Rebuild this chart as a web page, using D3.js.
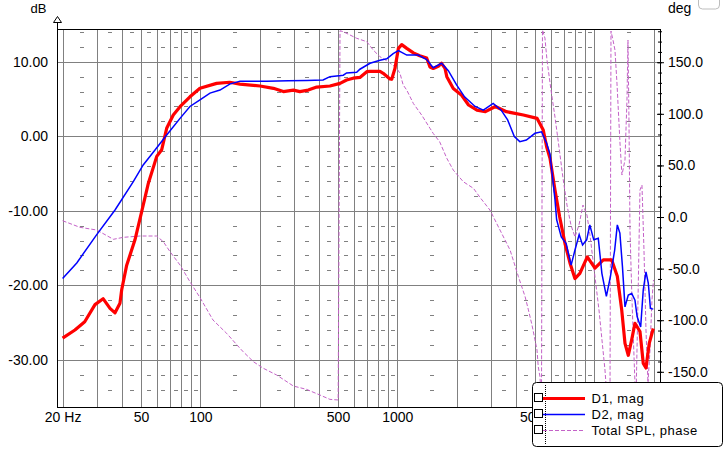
<!DOCTYPE html>
<html>
<head>
<meta charset="utf-8">
<script src="https://cdn.jsdelivr.net/npm/d3@7"></script>
<style>
  body { margin: 0; background: #fff; }
  text { font-family: Arial, "Liberation Sans", sans-serif; }
</style>
</head>
<body>
<div class="chart"></div>
<script>
// D1 magnitude (red)
var d1Freq = [20, 23.1, 25.9, 29.2, 32.1, 34.8, 36.9, 39.1, 39.9, 42.3, 46.6, 50.4, 54.5, 60.1, 63.7, 67.5, 72.9, 78.9, 88.6, 99.6,
  121, 141, 159, 201, 235, 264, 297, 320, 353, 390, 455, 512, 553, 597, 646, 700, 727, 817, 848, 918, 937, 973, 1013, 1053,
  1117, 1207, 1300, 1410, 1465, 1522, 1615, 1678, 1747, 1784, 1924, 2122, 2300, 2538, 2801, 3147, 3581, 4367, 5128, 5508,
  5730, 5960, 6317, 6670, 7101, 7526, 7975, 8452, 9215, 10080, 11110, 12260, 13090, 13780, 14320, 14880, 15490, 16090,
  17060, 17730, 18300, 19010, 19930];
var d1Mag = [-27.1, -26.0, -24.9, -22.6, -21.8, -23.1, -23.7, -22.4, -20.6, -17.3, -13.9, -10.1, -6.3, -2.7, -1.8, 1.07, 2.86, 3.97, 5.3, 6.44,
  7.1, 7.25, 7.0, 6.75, 6.44, 6.0, 6.2, 6.0, 6.2, 6.6, 6.75, 7.1, 7.55, 7.8, 7.9, 8.67, 8.7, 8.7, 8.45, 7.7, 7.65, 9.1, 11.8, 12.3,
  11.8, 11.2, 10.8, 10.5, 9.3, 9.1, 9.4, 9.8, 9.1, 8.0, 6.4, 5.5, 4.2, 3.5, 3.3, 4.0, 3.3, 2.86, 2.4, 0.85,
  -1.4, -2.95, -7.2, -10.8, -14.4, -17.0, -19.1, -18.4, -16.2, -17.7, -16.6, -16.6, -18.8, -23.3, -27.8, -29.4, -27.3, -25.1,
  -26.2, -30.5, -31.1, -27.8, -25.8];

// D2 magnitude (blue)
var d2Freq = [20, 23.6, 29.8, 36.9, 45.7, 51.3, 58.9, 67.5, 78.9, 88.6, 99.6, 112, 125.9, 141, 159, 217, 280, 346, 420, 455,
  532, 553, 622, 646, 727, 817, 884, 953, 1013, 1117, 1278, 1410, 1522, 1678, 1816, 2000, 2195, 2483, 2734, 3067, 3368,
  3632, 3928, 4188, 4520, 4999, 5397, 5731, 5960, 6317, 6440, 6800, 7200, 7630, 7975, 8380, 8720, 9150, 9490, 9940,
  10480, 10930, 11520, 12080, 12690, 13090, 13490, 13900, 14320, 14880, 15490, 16090, 16500, 17200, 17730, 18300,
  18800, 19270, 19930];
var d2Mag = [-19.1, -17.0, -13.2, -9.9, -6.1, -3.85, -1.84, 0.17, 2.4, 4.0, 4.9, 5.8, 6.2, 7.0, 7.4, 7.4, 7.45, 7.5, 7.55, 8.0,
  8.2, 8.5, 8.6, 9.0, 9.8, 10.2, 10.4, 11.1, 11.5, 10.9, 10.9, 10.3, 9.2, 9.8, 8.8, 6.9, 5.3, 4.0, 3.5, 4.4, 3.5,
  2.2, -0.05, -0.72, -0.5, 0.4, 0.6, -0.94, -2.4, -8.5, -11.2, -13.5, -14.4, -17.3, -15.3, -13.2, -14.6, -13.9, -11.9, -13.9,
  -13.7, -18.4, -21.5, -18.8, -15.3, -11.9, -13.0, -17.5, -22.9, -21.3, -21.1, -22.0, -24.2, -25.6, -20.6, -18.2,
  -19.7, -23.1, -23.2];

// Total SPL phase (violet, dashed, right axis)
var phFreq = [20, 24.5, 29.8, 36.2, 40.6, 49.4, 60, 64.9, 70.2, 78.9, 88.6, 99.6, 116, 136, 159, 165, 186, 209, 244, 297,
  346, 405, 455, 501, 512, 532, 622, 700, 755, 817, 900, 991, 1033, 1071, 1117, 1207, 1330, 1465, 1522, 1640, 1784,
  1924, 2163, 2436, 2630, 2953, 3322, 3737, 4120, 4455, 4630, 4829, 4999, 5120, 5195, 5303, 5395, 5458, 5618, 5754,
  6029, 6317, 6620, 6937, 7268, 7614, 7980, 8362, 8762, 9182, 9510, 9849, 10200, 10566, 10942, 11334, 11602, 12015,
  12157, 12444, 12735, 13037, 13506, 13818, 14316, 14656, 14829, 15000, 15180, 15540, 16090, 16282, 16673, 17060,
  17463, 17877, 18302, 18733, 19176, 19630, 19976];
var phDeg = [-3.6, -10, -12.6, -21.6, -19.7, -18.4, -18.4, -23.9, -33.6, -46.5, -62.7, -78, -99.8, -112.7, -127.2, -130.5, -140.2, -146.6, -153.1, -163.8,
  -167, -172.5, -176.7, -177.3, 180.5, 179.6, 173.2, 169.9, 161.8, 155.3, 150.5, 144.5, 139, 128, 123, 110, 98.8, 86, 81, 73, 56.9,
  45.5, 34.2, 27.8, 19, 6.8, -12.6, -32, -57.8, -77.2, -90, -104.7, -119, -128.9, -145, -155, -182.2, 181.2, 173.4, 152.1,
  123.1, 96.9, 67.8, 37.8, 11.6, -7.8, -19.4, -7.8, 11.6, 1.9, -17.4, -41.7, -65.9, -90.1, -119.2, -148.3, -175.4, -182.2,
  180.2, 171.5, 161.8, 129.8, 71.7, 40.7, 55.2, 113.4, 171.5, 94, -12.6, -80.4, -160.9, -177.3, -80.4, 26.2,
  31, -32, -109.5, -160.9, -128.9, -80.4, -61];

// ticks and labels
var freqGrid = [20, 30, 40, 50, 60, 70, 80, 90, 100, 200, 300, 400, 500, 600, 700, 800, 900,
  1000, 2000, 3000, 4000, 5000, 6000, 7000, 8000, 9000, 10000, 20000];
var freqMid = [25, 35, 45, 55, 65, 75, 85, 95, 150, 250, 350, 450, 550, 650, 750, 850, 950,
  1500, 2500, 3500, 4500, 5500, 6500, 7500, 8500, 9500, 15000];
var freqLabels = [20, 50, 100, 500, 1000, 5000];
var dbTicks = [10, 0, -10, -20, -30];
var dbMinor = [14, 12, 8, 6, 4, 2, -2, -4, -6, -8, -12, -14, -16, -18, -22, -24, -26, -28, -32, -34];
var degTicks = [150, 100, 50, 0, -50, -100, -150];
var degMinor = d3.range(-180, 181, 10);
var legendNames = ["D1, mag", "D2, mag", "Total SPL, phase"];

var svgWidth = 727, svgHeight = 453;
var plot = { left: 57, right: 660, top: 29, bottom: 407 };

var svg = d3.select(".chart").append("svg")
  .attr("width", svgWidth)
  .attr("height", svgHeight)
  .style("display", "block");

var xScale = d3.scaleLog().domain([18.73, 21560]).range([plot.left, plot.right]);
var yDb = d3.scaleLinear().domain([-36.34, 14.40]).range([plot.bottom, plot.top]);
var yDeg = d3.scaleLinear().domain([-184.1, 182.2]).range([plot.bottom, plot.top]);

var grid = svg.append("g").attr("shape-rendering", "crispEdges");

// vertical grid
grid.selectAll(".vg").data(freqGrid).enter().append("line")
  .attr("x1", d => Math.round(xScale(d)) + 0.5)
  .attr("x2", d => Math.round(xScale(d)) + 0.5)
  .attr("y1", plot.top).attr("y2", plot.bottom)
  .attr("stroke", "#808080");

// horizontal grid
grid.selectAll(".hg").data(dbTicks).enter().append("line")
  .attr("x1", plot.left).attr("x2", plot.right)
  .attr("y1", d => Math.round(yDb(d)) + 0.5)
  .attr("y2", d => Math.round(yDb(d)) + 0.5)
  .attr("stroke", "#808080");

// small dashes between grid lines
dbMinor.forEach(function(v) {
  grid.selectAll(null).data(freqMid).enter().append("line")
    .attr("x1", d => Math.round(xScale(d)) - 2)
    .attr("x2", d => Math.round(xScale(d)) + 2)
    .attr("y1", Math.round(yDb(v)) + 0.5)
    .attr("y2", Math.round(yDb(v)) + 0.5)
    .attr("stroke", "#808080");
});

// curves
var clip = svg.append("clipPath").attr("id", "plotclip").append("rect")
  .attr("x", plot.left).attr("y", plot.top)
  .attr("width", plot.right - plot.left).attr("height", plot.bottom - plot.top);

var curves = svg.append("g").attr("clip-path", "url(#plotclip)");

var phaseLine = d3.line().x(d => xScale(d[0])).y(d => yDeg(d[1]));
var magLine = d3.line().x(d => xScale(d[0])).y(d => yDb(d[1]));

curves.append("path")
  .attr("d", phaseLine(d3.zip(phFreq, phDeg)))
  .attr("fill", "none")
  .attr("stroke", "#c462c8")
  .attr("stroke-width", 1)
  .attr("stroke-dasharray", "4,2");

curves.append("path")
  .attr("d", magLine(d3.zip(d1Freq, d1Mag)))
  .attr("fill", "none")
  .attr("stroke", "#ff0000")
  .attr("stroke-width", 3.2)
  .attr("stroke-linejoin", "round");

curves.append("path")
  .attr("d", magLine(d3.zip(d2Freq, d2Mag)))
  .attr("fill", "none")
  .attr("stroke", "#0000ff")
  .attr("stroke-width", 1.5);

// frame
var frame = svg.append("g").attr("stroke", "#000").attr("shape-rendering", "crispEdges");
frame.append("line").attr("x1", plot.left).attr("x2", plot.right + 1).attr("y1", plot.top + 0.5).attr("y2", plot.top + 0.5);
frame.append("line").attr("x1", plot.left).attr("x2", plot.right + 1).attr("y1", plot.bottom + 0.5).attr("y2", plot.bottom + 0.5);
frame.append("line").attr("x1", plot.left + 0.5).attr("x2", plot.left + 0.5).attr("y1", 20).attr("y2", plot.bottom + 1);
frame.append("line").attr("x1", plot.right + 0.5).attr("x2", plot.right + 0.5).attr("y1", plot.top).attr("y2", plot.bottom + 1);

// arrow on the dB axis
svg.append("path")
  .attr("d", "M53.5,22.5 L57.5,16.5 L61.5,22.5 Z")
  .attr("fill", "#fff").attr("stroke", "#000");

// axes
var bottomAxis = d3.axisBottom(xScale).tickValues(freqLabels)
  .tickFormat(d => d === 20 ? "20 Hz" : String(d)).tickSize(0).tickPadding(5);
var bx = svg.append("g").attr("transform", `translate(0, ${plot.bottom})`).call(bottomAxis);
bx.select(".domain").remove();
bx.selectAll("text").attr("font-size", "14px").attr("font-family", "Arial, 'Liberation Sans', sans-serif").attr("fill", "#000");

var leftAxis = d3.axisLeft(yDb).tickValues(dbTicks).tickFormat(d => d.toFixed(2)).tickSize(0).tickPadding(9);
var lx = svg.append("g").attr("transform", `translate(${plot.left}, 0)`).call(leftAxis);
lx.select(".domain").remove();
lx.selectAll("text").attr("font-size", "14px").attr("font-family", "Arial, 'Liberation Sans', sans-serif").attr("fill", "#000");

var rightMinor = d3.axisRight(yDeg).tickValues(degMinor).tickFormat("").tickSize(2);
var rm = svg.append("g").attr("transform", `translate(${plot.right}, 0)`).call(rightMinor);
rm.select(".domain").remove();
rm.selectAll("line").attr("stroke", "#000").attr("x1", -2);

var rightAxis = d3.axisRight(yDeg).tickValues(degTicks).tickFormat(d => d.toFixed(1)).tickSize(4).tickPadding(4);
var rx = svg.append("g").attr("transform", `translate(${plot.right}, 0)`).call(rightAxis);
rx.select(".domain").remove();
rx.selectAll("line").attr("stroke", "#000").attr("x1", -3);
rx.selectAll("text").attr("font-size", "14px").attr("font-family", "Arial, 'Liberation Sans', sans-serif").attr("fill", "#000");

// axis titles
svg.append("text").attr("x", 30.5).attr("y", 12.5).attr("font-size", "13px").text("dB");
svg.append("text").attr("x", 668).attr("y", 12.5).attr("font-size", "14px").text("deg");

// little box top right
svg.append("rect").attr("x", 698.5).attr("y", -9.5).attr("width", 21).attr("height", 18.5).attr("rx", 4)
  .attr("fill", "none").attr("stroke", "#bdbdbd");

// legend
var legend = svg.append("g");
legend.append("rect")
  .attr("x", 532.5).attr("y", 382.5).attr("width", 190).attr("height", 64).attr("rx", 4)
  .attr("fill", "#fff").attr("stroke", "#000");
legend.append("line")
  .attr("x1", 545.5).attr("x2", 545.5).attr("y1", 385).attr("y2", 445)
  .attr("stroke", "#000").attr("stroke-dasharray", "1,1");

var legendRows = [398, 414, 430];
var legendStyles = [
  { color: "#ff0000", width: 3.2, dash: null },
  { color: "#0000ff", width: 1.5, dash: null },
  { color: "#c462c8", width: 1, dash: "4,2" }
];
legendNames.forEach(function(name, i) {
  var y = legendRows[i];
  legend.append("rect")
    .attr("x", 534.5).attr("y", y - 4.5).attr("width", 8).attr("height", 8)
    .attr("fill", "#fff").attr("stroke", "#000").attr("shape-rendering", "crispEdges");
  legend.append("line")
    .attr("x1", 543).attr("x2", 585).attr("y1", y + 0.5).attr("y2", y + 0.5)
    .attr("stroke", legendStyles[i].color)
    .attr("stroke-width", legendStyles[i].width)
    .attr("stroke-dasharray", legendStyles[i].dash);
  legend.append("text")
    .attr("x", 591.5).attr("y", y + 5)
    .attr("font-size", "13px")
    .attr("letter-spacing", "0.5px")
    .text(name);
});
</script>
</body>
</html>
